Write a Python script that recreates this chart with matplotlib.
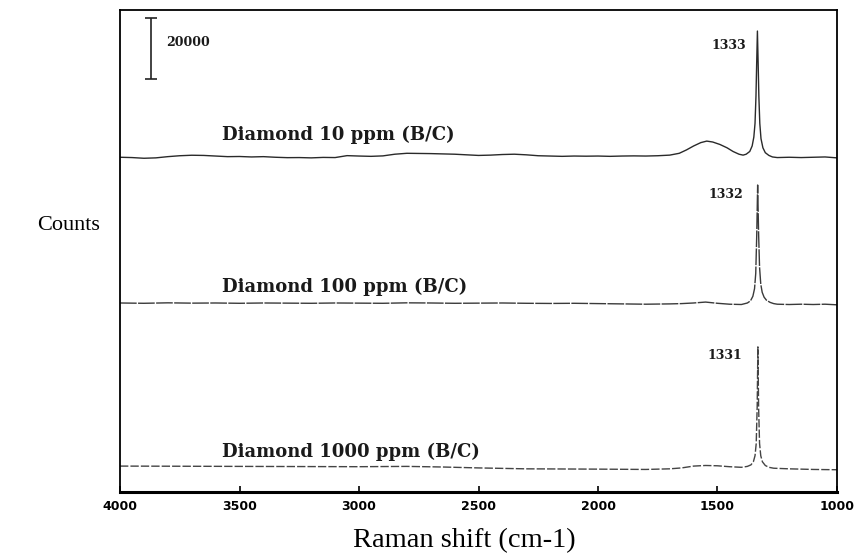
import matplotlib.pyplot as plt

# Raman shift (cm-1) and counts above each trace's own baseline
shift_10 = [4000, 3950, 3900, 3850, 3800, 3750, 3700, 3650, 3600, 3550, 3500, 3450,
            3400, 3350, 3300, 3250, 3200, 3150, 3100, 3050, 3000, 2950, 2900, 2850,
            2800, 2750, 2700, 2650, 2600, 2550, 2500, 2450, 2400, 2350, 2300, 2250,
            2200, 2150, 2100, 2050, 2000, 1950, 1900, 1850, 1800, 1750, 1700, 1660,
            1630, 1600, 1570, 1545, 1520, 1490, 1460, 1435, 1410, 1393, 1380, 1365,
            1355, 1348, 1343, 1339, 1336, 1333, 1330, 1327, 1323, 1318, 1310, 1300,
            1285, 1270, 1250, 1200, 1150, 1100, 1050, 1000]
counts_10 = [-100, -200, -430, -300, 100, 400, 560, 500, 300, 100, 150, 0,
             100, -100, -230, -200, -300, -150, -200, 430, 300, 200, 350, 900,
             1200, 1150, 1100, 1000, 900, 700, 500, 600, 800, 900, 700, 400,
             300, 200, 300, 250, 300, 200, 300, 350, 300, 400, 600, 1200,
             2300, 3600, 4700, 5200, 4900, 4100, 3000, 1800, 900, 600, 900, 1800,
             3600, 6500, 11000, 20000, 31000, 41300, 31000, 20000, 11000, 6000, 3000, 1400,
             500, 0, -200, -100, -200, -100, 0, -300]

shift_100 = [4000, 3900, 3800, 3700, 3600, 3500, 3400, 3300, 3200, 3100, 3000, 2900,
             2800, 2700, 2600, 2500, 2400, 2300, 2200, 2100, 2000, 1900, 1800, 1700,
             1650, 1600, 1550, 1500, 1450, 1400, 1375, 1362, 1352, 1345, 1340, 1336,
             1332, 1328, 1324, 1319, 1313, 1305, 1295, 1280, 1265, 1250, 1200, 1150,
             1100, 1050, 1000]
counts_100 = [300, 200, 350, 250, 300, 200, 300, 250, 200, 300, 250, 200,
              350, 300, 200, 250, 300, 200, 150, 200, 100, 0, -100, 0,
              100, 300, 600, 200, -100, -200, 300, 1000, 2500, 5000, 10000, 22000,
              39000, 23000, 12000, 6500, 3800, 2200, 1200, 500, 100, -100, -200, -100,
              -200, -100, -300]

shift_1000 = [4000, 3750, 3500, 3250, 3000, 2800, 2650, 2500, 2300, 2150, 2000, 1900,
              1800, 1700, 1650, 1600, 1550, 1500, 1450, 1400, 1375, 1360, 1350, 1343,
              1338, 1334, 1331, 1328, 1324, 1319, 1312, 1300, 1285, 1265, 1200, 1100,
              1000]
counts_1000 = [600, 550, 500, 450, 400, 500, 300, 0, -300, -350, -400, -450,
               -500, -300, 0, 600, 800, 700, 400, 200, 500, 1000, 2000, 4000,
               8000, 20000, 39700, 20000, 8000, 4000, 2000, 800, 200, -100, -300, -500,
               -600]

offsets = [109900, 61700, 7900]
sample_labels = ['Diamond 10 ppm (B/C)', 'Diamond 100 ppm (B/C)', 'Diamond 1000 ppm (B/C)']
peak_labels = ['1333', '1332', '1331']

fig = plt.figure(figsize=(8.56, 5.56), dpi=100)
ax = fig.add_axes([0.1402, 0.1151, 0.8376, 0.8669])

spectra = [(shift_10, counts_10), (shift_100, counts_100), (shift_1000, counts_1000)]
styles = ['-', (0, (12, 1)), (0, (6, 1.5))]
colors = ['#2a2a2a', '#3a3a3a', '#444444']
for (x, c), off, ls, col in zip(spectra, offsets, styles, colors):
    ax.plot(x, [v + off for v in c], ls=ls, color=col, lw=1.0)

# sample names and peak positions
lab_y = [117100, 67240, 13100]
peak_y = [146600, 97700, 44900]
peak_x = [1381, 1393, 1398]
for name, ly, pl, px, py in zip(sample_labels, lab_y, peak_labels, peak_x, peak_y):
    ax.text(3573, ly, name, family='DejaVu Serif', weight='bold', fontsize=13,
            ha='left', va='center', color='#1a1a1a')
    ax.text(px, py, pl, family='DejaVu Serif', weight='bold', fontsize=9,
            ha='right', va='center', color='#1a1a1a')

# scale bar
ax.errorbar([3870], [145500], yerr=10000, color='#222222', lw=1.2, capsize=4, capthick=1.2)
ax.text(3808, 147600, '20000', family='DejaVu Serif', weight='bold', fontsize=9,
        ha='left', va='center', color='#1a1a1a')

ax.set_xlim(4000, 1000)
ax.set_ylim(0, 158100)
ax.set_xticks([4000, 3500, 3000, 2500, 2000, 1500, 1000])
ax.set_yticks([])
ax.tick_params(axis='x', direction='in', length=4, width=1.2, pad=6)
for lbl in ax.get_xticklabels():
    lbl.set_family('DejaVu Sans')
    lbl.set_weight('bold')
    lbl.set_fontsize(9)
for s in ax.spines.values():
    s.set_linewidth(1.3)
ax.spines['bottom'].set_linewidth(2.2)

fig.text(69 / 856, 1 - 226 / 556, 'Counts', family='Liberation Serif', fontsize=16,
         ha='center', va='center')
fig.text(464 / 856, 1 - 541 / 556, 'Raman shift (cm-1)', family='Liberation Serif',
         fontsize=20.5, ha='center', va='center')

fig.savefig('out.png', dpi=100)
